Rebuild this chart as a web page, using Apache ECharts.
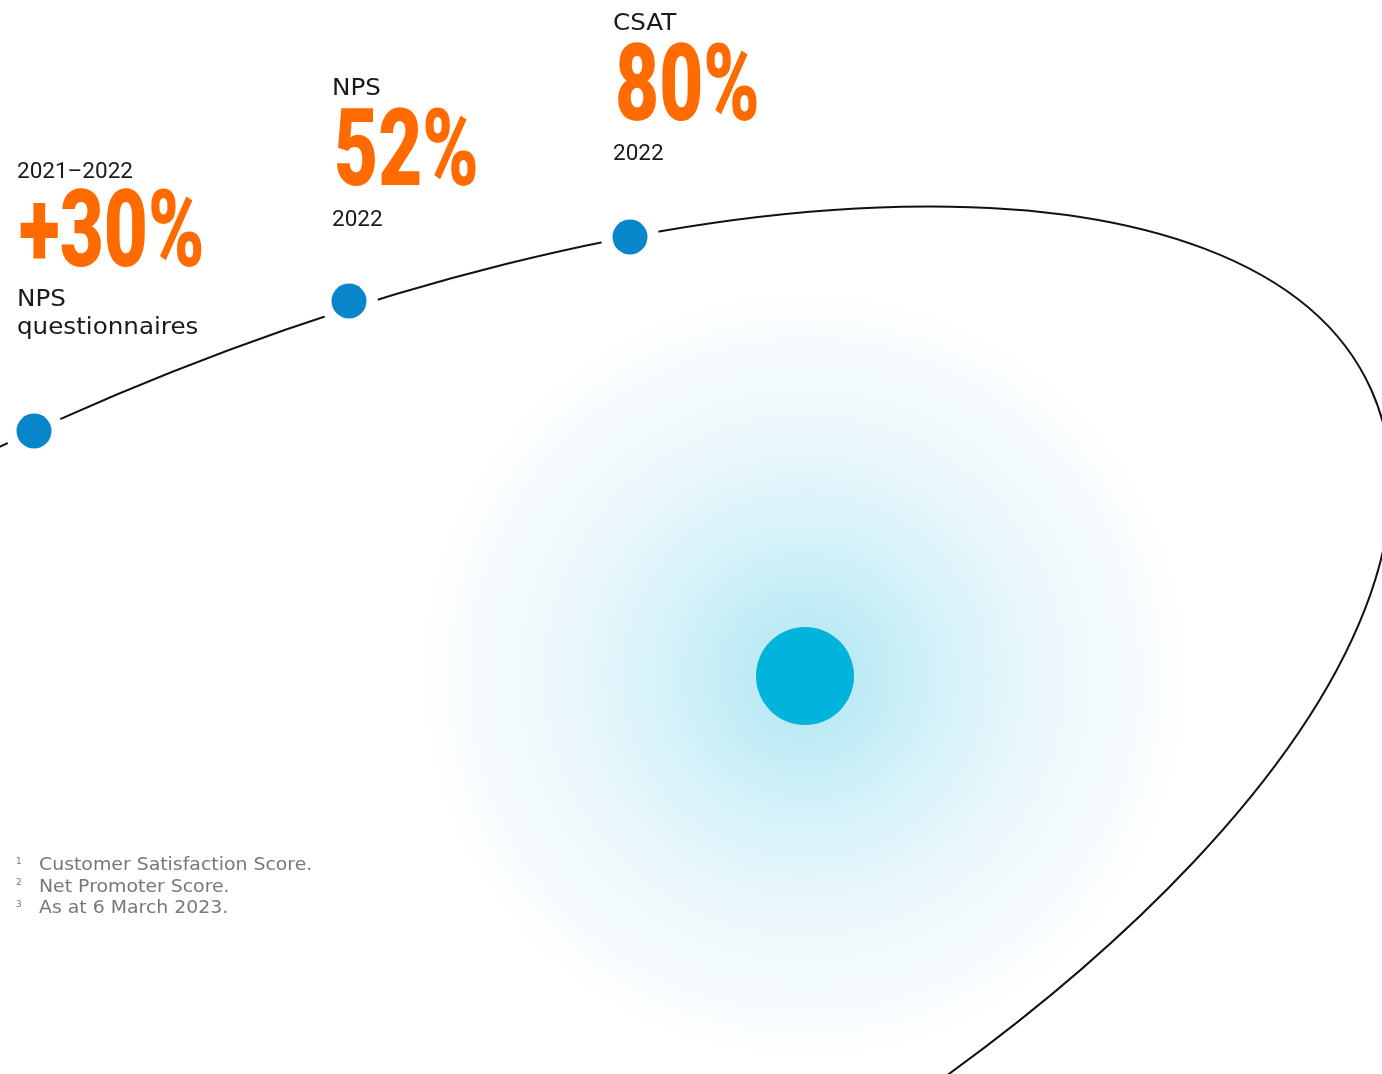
<!DOCTYPE html>
<html>
<head>
<meta charset="utf-8">
<script src="https://cdn.jsdelivr.net/npm/echarts@6/dist/echarts.min.js"></script>
<style>
html,body{margin:0;padding:0;background:#fff;}
#c{width:1382px;height:1074px;}
</style>
</head>
<body>
<div id="c"></div>
<script>
// ---- data (pixel space of the drawing) ----
const topLabels = ['2021–2022', 'NPS', 'CSAT'];
const values = ['+30%', '52%', '80%'];
const bottomLabels = [['NPS', 'questionnaires'], ['2022'], ['2022']];
const milestoneX = [34, 349, 630];
const milestoneY = [431, 301, 237];
const centerPoint = [805, 676];
// orbit ellipse: centre x, centre y, semi-major, semi-minor, tilt (deg)
const orbitEllipse = [267, 882, 1209, 507, 24];
const footnoteMarks = ['1', '2', '3'];
const footnotes = ['Customer Satisfaction Score.', 'Net Promoter Score.', 'As at 6 March 2023.'];

// ---- layout / style ----
const W = 1382, H = 1074;
const ORANGE = '#ff6b00';
const DOT = '#0786cb';
const TEXT = '#1a1a1a';
const valueCenterY = [231, 150, 84.5];
const bottomOffset = [68.5, 96.5];
const WORD_FONT = '23px "DejaVu Sans", Inter, sans-serif';
const NUM_FONT = '22.5px Roboto, Inter, sans-serif';
const BIG_FONT = '900 108px Roboto, "DejaVu Sans", sans-serif';
const isNumeric = s => /^[0-9–\-]+$/.test(s);

const chart = echarts.init(document.getElementById('c'), null, {renderer: 'canvas'});

const milestones = milestoneX.map((x, i) => [x, milestoneY[i]]);

const graphics = [];
function smallText(t, x, y) {
  const num = isNumeric(t);
  graphics.push({
    type: 'text', x: x, y: y + (num ? 2.5 : 1), scaleX: num ? 1 : 1.07, z: 10,
    style: {text: t, font: num ? NUM_FONT : WORD_FONT, fill: TEXT, verticalAlign: 'middle', align: 'left'}
  });
}
values.forEach((v, i) => {
  const x0 = milestoneX[i] - 17;
  const cy = valueCenterY[i];
  smallText(topLabels[i], x0, cy - 61.5);
  graphics.push({
    type: 'text', x: x0 + 2, y: cy + 8, scaleX: 0.705, z: 10,
    style: {text: v, font: BIG_FONT, fill: ORANGE, verticalAlign: 'middle', align: 'left'}
  });
  bottomLabels[i].forEach((t, j) => smallText(t, x0, cy + bottomOffset[j] - (bottomLabels[i].length > 1 ? 0 : 1)));
});
footnotes.forEach((t, i) => {
  const cy = 865.5 + i * 21.5;
  graphics.push({
    type: 'text', x: 16, y: cy - 4, z: 10,
    style: {text: footnoteMarks[i], font: '9px "DejaVu Sans", sans-serif', fill: '#777', verticalAlign: 'middle', align: 'left'}
  });
  graphics.push({
    type: 'text', x: 39, y: cy + 0.5, scaleX: 1.11, z: 10,
    style: {text: t, font: '17px "DejaVu Sans", sans-serif', fill: '#777777', verticalAlign: 'middle', align: 'left'}
  });
});

chart.setOption({
  animation: false,
  backgroundColor: '#ffffff',
  grid: {left: 0, right: 0, top: 0, bottom: 0},
  xAxis: {type: 'value', min: 0, max: W, show: false},
  yAxis: {type: 'value', min: 0, max: H, inverse: true, show: false},
  series: [
    {
      type: 'scatter', z: 1, silent: true,
      data: [centerPoint], symbolSize: 810,
      itemStyle: {
        color: {
          type: 'radial', x: 0.5, y: 0.5, r: 0.5,
          colorStops: [
            {offset: 0, color: 'rgba(158,224,240,1)'},
            {offset: 0.15, color: 'rgba(175,230,243,1)'},
            {offset: 0.35, color: 'rgba(203,239,248,1)'},
            {offset: 0.6, color: 'rgba(231,246,251,1)'},
            {offset: 0.85, color: 'rgba(246,251,253,1)'},
            {offset: 1, color: 'rgba(255,255,255,0)'}
          ]
        }
      }
    },
    {
      type: 'custom', z: 2, silent: true, clip: false,
      data: [orbitEllipse],
      renderItem: function (params, api) {
        const c = api.coord([api.value(0), api.value(1)]);
        const s = api.size([api.value(2), api.value(3)]);
        return {
          type: 'ellipse',
          x: c[0], y: c[1],
          rotation: api.value(4) * Math.PI / 180,
          shape: {cx: 0, cy: 0, rx: Math.abs(s[0]), ry: Math.abs(s[1])},
          style: {fill: null, stroke: '#111111', lineWidth: 2}
        };
      }
    },
    {
      type: 'scatter', z: 3, silent: true, data: milestones, symbolSize: 58,
      itemStyle: {color: '#ffffff', opacity: 1}
    },
    {
      type: 'scatter', z: 4, silent: true, data: milestones, symbolSize: 35,
      itemStyle: {color: DOT, opacity: 1}
    },
    {
      type: 'scatter', z: 5, silent: true, data: [centerPoint], symbolSize: 98,
      itemStyle: {color: '#00b4db', opacity: 1}
    }
  ],
  graphic: graphics
});
</script>
</body>
</html>
